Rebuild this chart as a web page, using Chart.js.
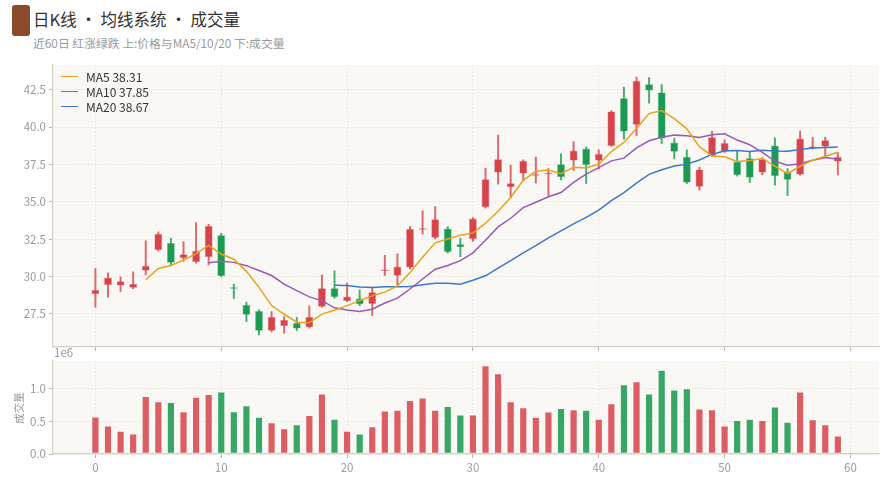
<!DOCTYPE html>
<html>
<head>
<meta charset="utf-8">
<script src="https://cdn.jsdelivr.net/npm/chart.js@4.4.0/dist/chart.umd.min.js"></script>
<style>
html,body{margin:0;padding:0;background:#fff;}
body{width:893px;height:500px;overflow:hidden;position:relative;font-family:'Noto Sans CJK SC','Noto Sans',sans-serif;}
#c1{position:absolute;left:0;top:0;}
#c2{position:absolute;left:0;top:348px;}
.badge{position:absolute;left:12px;top:5px;width:18px;height:31px;background:#8b4a2b;border-radius:3px;}
.title{position:absolute;left:33px;top:8px;font-size:16.5px;line-height:22px;color:#333;white-space:nowrap;}
.sub{position:absolute;left:33px;top:35px;font-size:11.8px;line-height:16px;color:#9a9a9a;white-space:nowrap;}
.legend{position:absolute;left:61px;top:69px;font-size:12px;color:#333;}
.legend .row{height:15px;line-height:15px;display:flex;align-items:center;white-space:nowrap;}
.legend .ln{display:inline-block;width:17px;height:1.6px;margin-right:8px;}
.exp{position:absolute;left:54px;top:344px;font-size:11.5px;line-height:16px;color:#9a9a9a;}
.ylab{position:absolute;left:19px;top:408px;font-size:10.5px;line-height:12px;color:#9a9a9a;transform:translate(-50%,-50%) rotate(-90deg);white-space:nowrap;}
</style>
</head>
<body>
<div class="badge"></div>
<div class="title">日K线 · 均线系统 · 成交量</div>
<div class="sub">近60日 红涨绿跌 上:价格与MA5/10/20 下:成交量</div>
<canvas id="c1" width="893" height="360"></canvas>
<canvas id="c2" width="893" height="152"></canvas>
<div class="legend" id="legend"></div>
<div class="exp">1e6</div>
<div class="ylab">成交量</div>
<script>
const days = [0,1,2,3,4,5,6,7,8,9,10,11,12,13,14,15,16,17,18,19,20,21,22,23,24,25,26,27,28,29,30,31,32,33,34,35,36,37,38,39,40,41,42,43,44,45,46,47,48,49,50,51,52,53,54,55,56,57,58,59];
const openP = [28.82,29.44,29.40,29.26,30.40,31.77,32.25,31.23,30.98,31.30,32.77,29.25,28.11,27.69,26.37,26.70,26.90,26.61,27.99,29.22,28.37,28.53,28.17,30.38,30.05,30.60,33.13,32.59,33.21,32.17,32.50,34.64,36.96,35.98,36.89,36.74,36.84,37.52,37.76,38.56,37.76,38.74,41.93,40.15,42.87,42.31,38.96,38.00,36.00,38.07,38.35,37.69,37.92,36.96,38.76,37.00,36.82,38.56,38.70,37.69];
const highP = [30.54,30.25,29.98,30.31,32.39,32.99,32.57,32.34,33.61,33.50,32.90,29.49,28.29,27.77,27.66,27.32,27.28,28.04,30.11,30.38,29.58,29.11,29.29,31.43,31.52,33.34,34.39,34.68,33.34,32.57,33.95,37.25,39.46,37.45,37.81,37.99,37.22,38.21,39.03,38.67,38.48,41.10,42.67,43.34,43.31,42.84,39.26,38.47,37.32,39.72,39.15,38.41,38.36,37.96,39.27,37.22,39.73,39.32,39.32,38.32];
const lowP = [27.95,28.62,29.00,29.18,30.11,31.70,30.78,31.03,30.90,30.78,29.98,28.53,26.99,26.10,26.30,26.21,26.39,26.55,27.95,28.55,28.33,28.05,27.39,30.07,29.40,30.52,32.84,32.52,31.58,31.32,32.35,34.58,36.18,35.28,36.40,36.25,35.40,36.47,37.09,36.22,37.19,38.70,39.19,39.43,41.60,38.88,37.87,36.22,35.78,38.02,38.30,36.72,36.29,36.80,36.11,35.42,36.78,38.53,38.03,36.80];
const closeP = [29.10,29.93,29.69,29.51,30.72,32.86,30.92,31.50,31.72,33.39,30.03,29.18,27.44,26.37,27.30,27.10,26.52,27.30,29.22,28.62,28.66,28.15,28.96,30.42,30.67,33.19,33.20,33.84,31.65,31.97,33.88,36.51,37.85,36.24,37.74,36.85,36.90,36.65,38.43,37.47,38.21,41.04,39.70,43.09,42.44,39.23,38.34,36.29,37.16,39.32,38.93,36.78,36.62,37.85,36.72,36.47,39.23,38.70,39.12,38.00];
const volume = [570000,430000,350000,310000,880000,800000,790000,650000,870000,910000,950000,650000,740000,565000,480000,390000,450000,590000,920000,535000,350000,310000,420000,660000,670000,820000,860000,670000,730000,600000,600000,1350000,1230000,800000,710000,565000,645000,700000,680000,670000,535000,770000,1060000,1105000,920000,1280000,980000,1000000,690000,680000,430000,515000,535000,515000,720000,490000,950000,525000,450000,280000];
const ma5 = [null,null,null,null,29.79,30.54,30.74,31.10,31.54,32.08,31.51,31.16,30.35,29.28,28.06,27.48,26.95,26.92,27.49,27.75,28.06,28.39,28.72,28.96,29.37,30.28,31.29,32.26,32.51,32.77,32.91,33.57,34.37,35.29,36.44,37.04,37.12,36.88,37.31,37.26,37.53,38.36,38.97,39.90,40.90,41.10,40.56,39.88,38.69,38.07,38.01,37.70,37.76,37.90,37.38,36.89,37.38,37.79,38.05,38.31];
const ma10 = [null,null,null,null,null,null,null,null,null,30.93,31.03,30.95,30.73,30.41,30.07,29.50,29.06,28.64,28.39,27.91,27.77,27.67,27.82,28.23,28.56,29.17,29.84,30.49,30.74,31.07,31.59,32.43,33.32,33.90,34.61,34.97,35.34,35.62,36.30,36.85,37.29,37.74,37.92,38.61,39.08,39.32,39.46,39.42,39.30,39.48,39.55,39.13,38.82,38.30,37.72,37.45,37.54,37.78,37.97,37.85];
const ma20 = [null,null,null,null,null,null,null,null,null,null,null,null,null,null,null,null,null,null,null,29.42,29.40,29.31,29.27,29.32,29.32,29.33,29.45,29.56,29.56,29.49,29.75,30.05,30.57,31.06,31.58,32.07,32.59,33.06,33.52,33.96,34.44,35.08,35.62,36.25,36.84,37.14,37.40,37.52,37.80,38.17,38.42,38.43,38.37,38.45,38.40,38.38,38.50,38.60,38.64,38.67];
const maNames = ['MA5','MA10','MA20'];
const maLast = ['38.31','37.85','38.67'];
const priceTicks = [27.5,30,32.5,35,37.5,40,42.5];
const volTicks = [0,500000,1000000];
const xTicks = [0,10,20,30,40,50,60];

const RED = '#d6434b', GREEN = '#1b9a52';
const RED_A = 'rgba(214,67,75,0.85)', GREEN_A = 'rgba(27,154,82,0.88)';
const maColors = ['#eaa21c','#9b59b6','#3a78d0'];
const FONT = "'Noto Sans CJK SC','Noto Sans',sans-serif";
Chart.defaults.font.family = FONT;
Chart.defaults.animation = false;

const isUp = i => closeP[i] >= openP[i];

const bgPlugin = {
  id: 'bg',
  beforeDraw(chart) {
    const {ctx, chartArea: a} = chart;
    ctx.save();
    ctx.fillStyle = '#f9f8f4';
    ctx.fillRect(a.left, a.top, a.right - a.left, a.bottom - a.top);
    ctx.restore();
  }
};

const gridCommon = {color: '#e4e0d6', lineWidth: 0.8, tickLength: 4, tickColor: '#b8b4aa', tickWidth: 1, offset: false};
const borderCommon = {color: '#d3cfc3', width: 1.2, dash: [1.5, 2]};

const xScale = (showLabels, height) => ({
  type: 'linear', min: -3.37, max: 62.27, offset: false,
  afterBuildTicks: s => { s.ticks = xTicks.map(v => ({value: v})); },
  afterFit: s => { s.height = height; },
  grid: Object.assign({}, gridCommon),
  border: Object.assign({}, borderCommon),
  ticks: {display: showLabels, color: '#9a9a9a', font: {size: 11.5}, padding: 3, maxRotation: 0,
          callback: v => String(v)}
});

const maData = arr => arr.map((v, i) => ({x: days[i], y: v}));

new Chart(document.getElementById('c1'), {
  type: 'bar',
  data: {
    datasets: [
      {type: 'line', label: 'MA5', data: maData(ma5), borderColor: maColors[0], borderWidth: 1.5, pointRadius: 0, spanGaps: false, order: 0},
      {type: 'line', label: 'MA10', data: maData(ma10), borderColor: maColors[1], borderWidth: 1.5, pointRadius: 0, spanGaps: false, order: 0},
      {type: 'line', label: 'MA20', data: maData(ma20), borderColor: maColors[2], borderWidth: 1.5, pointRadius: 0, spanGaps: false, order: 0},
      {type: 'bar', label: 'body', data: days.map(i => ({x: i, y: [openP[i], closeP[i]]})),
       grouped: false, categoryPercentage: 1, barPercentage: 0.62, minBarLength: 1.5,
       backgroundColor: c => isUp(c.dataIndex) ? RED : GREEN,
       borderColor: c => isUp(c.dataIndex) ? 'rgba(214,67,75,0.6)' : 'rgba(27,154,82,0.6)',
       borderWidth: 0.6, borderSkipped: false, order: 1},
      {type: 'bar', label: 'wick', data: days.map(i => ({x: i, y: [lowP[i], highP[i]]})),
       grouped: false, barThickness: 1.3,
       backgroundColor: c => isUp(c.dataIndex) ? 'rgba(214,67,75,0.8)' : 'rgba(27,154,82,0.8)',
       borderWidth: 0, order: 2}
    ]
  },
  options: {
    responsive: false, animation: false,
    layout: {padding: {left: 0, right: 14, top: 65, bottom: 0}},
    plugins: {legend: {display: false}, tooltip: {enabled: false}},
    scales: {
      x: xScale(false, 13),
      y: {
        type: 'linear', min: 25.29, max: 44.15,
        afterBuildTicks: s => { s.ticks = priceTicks.map(v => ({value: v})); },
        afterFit: s => { s.width = 53; },
        grid: Object.assign({}, gridCommon),
        border: Object.assign({}, borderCommon),
        ticks: {color: '#9a9a9a', font: {size: 11.5}, padding: 3, callback: v => Number(v).toFixed(1)}
      }
    }
  },
  plugins: [bgPlugin]
});

new Chart(document.getElementById('c2'), {
  type: 'bar',
  data: {
    datasets: [
      {label: '成交量', data: days.map(i => ({x: i, y: volume[i]})),
       grouped: false, categoryPercentage: 1, barPercentage: 0.62,
       backgroundColor: c => isUp(c.dataIndex) ? RED_A : GREEN_A,
       borderColor: 'rgba(255,255,255,0.55)', borderWidth: 0.8, borderSkipped: false}
    ]
  },
  options: {
    responsive: false, animation: false,
    layout: {padding: {left: 0, right: 14, top: 13, bottom: 0}},
    plugins: {legend: {display: false}, tooltip: {enabled: false}},
    scales: {
      x: xScale(true, 46),
      y: {
        type: 'linear', min: 0, max: 1418000,
        afterBuildTicks: s => { s.ticks = volTicks.map(v => ({value: v})); },
        afterFit: s => { s.width = 53; },
        grid: Object.assign({}, gridCommon),
        border: Object.assign({}, borderCommon),
        ticks: {color: '#9a9a9a', font: {size: 11.5}, padding: 3, callback: v => (v / 1e6).toFixed(1)}
      }
    }
  },
  plugins: [bgPlugin]
});

const lg = document.getElementById('legend');
maNames.forEach((n, k) => {
  const row = document.createElement('div');
  row.className = 'row';
  const ln = document.createElement('span');
  ln.className = 'ln';
  ln.style.background = maColors[k];
  row.appendChild(ln);
  row.appendChild(document.createTextNode(n + ' ' + maLast[k]));
  lg.appendChild(row);
});
</script>
</body>
</html>
